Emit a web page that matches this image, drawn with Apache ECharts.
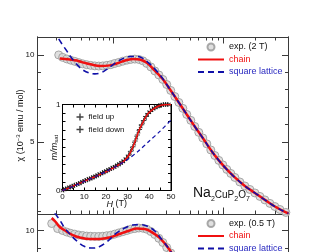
<!DOCTYPE html>
<html><head><meta charset="utf-8">
<script src="https://cdn.jsdelivr.net/npm/echarts@6/dist/echarts.min.js"></script>
<style>html,body{margin:0;padding:0;background:#fff}#c{width:326px;height:252px}</style>
</head><body><div id="c"></div>
<script>
// ---- top panel (2 T) ----
const expTopT = [3.13,3.40,3.71,4.03,4.39,4.77,5.19,5.65,6.15,6.70,7.29,7.93,8.63,9.39,10.2,11.1,12.1,13.2,14.3,15.6,17.0,18.5,20.1,21.9,23.8,25.9,28.2,30.6,33.3,36.3,39.5,43.0,46.7,50.9,55.3,60.2,65.5,71.3,77.6,84.5,91.9,100,108.8,118.4,128.9,143.2,159.2,176.9,196.7,218.6,242.9,270.0,300.1,333.5,378.4];
const expTopChi = [10.00,9.86,9.77,9.70,9.63,9.56,9.49,9.44,9.40,9.37,9.36,9.37,9.40,9.44,9.51,9.57,9.64,9.70,9.74,9.76,9.74,9.66,9.51,9.31,9.08,8.85,8.59,8.30,7.96,7.61,7.27,6.93,6.58,6.24,5.89,5.55,5.23,4.89,4.54,4.22,3.94,3.68,3.42,3.19,2.96,2.70,2.47,2.27,2.07,1.87,1.67,1.47,1.29,1.12,0.95];
const chainTopT = [3.20,3.95,4.58,5.19,6.42,7.44,9.19,10.65,13.2,15.3,17.3,20.1,23.8,28.2,33.3,39.5,46.7,55.3,65.5,77.6,91.9,108.8,128.9,159.2,196.7,242.9,300.1,378.4,400];
const chainTopChi = [9.80,9.74,9.68,9.57,9.43,9.37,9.40,9.51,9.71,9.77,9.74,9.55,9.10,8.60,7.96,7.27,6.58,5.89,5.23,4.54,3.94,3.42,2.96,2.47,2.07,1.67,1.29,0.95,0.90];
const sqTopT = [3.13,3.40,3.71,4.03,4.39,4.77,5.19,5.90,6.70,7.60,8.63,9.79,11.1,12.6,14.3,16.3,18.5,20.9,23.8,27.0,30.6,33.3,39.5,46.7,55.3,65.5,77.6,91.9,108.8,128.9,159.2,196.7,242.9,300.1,378.4,400];
const sqTopChi = [10.92,10.57,10.23,9.89,9.60,9.34,9.14,8.97,8.91,8.97,9.17,9.43,9.66,9.83,9.91,9.91,9.80,9.54,9.20,8.79,8.30,7.96,7.27,6.58,5.89,5.23,4.54,3.94,3.42,2.96,2.47,2.07,1.67,1.29,0.95,0.90];
// ---- bottom panel (0.5 T) ----
const expBotT = [2.70,3.06,3.40,3.71,4.03,4.39,4.77,5.19,5.65,6.15,6.70,7.29,7.93,8.63,9.39,10.2,11.1,12.1,13.2,14.3,15.6,17.0,18.5,20.1,21.9,23.8,25.9,28.2,30.6,33.3,36.3,39.5];
const expBotChi = [10.40,10.11,10.00,9.91,9.84,9.79,9.74,9.71,9.68,9.67,9.66,9.66,9.67,9.70,9.73,9.79,9.86,9.93,10.00,10.07,10.11,10.14,10.13,10.07,9.94,9.77,9.55,9.31,9.02,8.71,8.36,8.02];
const chainBotT = [2.70,2.94,3.20,3.63,4.21,4.88,6.02,7.44,9.19,11.3,14.0,16.3,19.2,22.3,26.4,32.6,38.6,46.0];
const chainBotChi = [10.72,10.49,10.20,9.97,9.74,9.60,9.51,9.51,9.60,9.80,10.00,10.11,10.09,9.91,9.57,8.88,8.10,7.41];
const sqBotT = [2.88,3.20,3.55,3.95,4.58,5.42,6.42,7.44,8.63,9.59,10.65,12.6,14.9,17.3,20.1,23.8,28.2,32.6,38.6,46.0];
const sqBotChi = [11.00,10.60,10.14,9.80,9.40,9.08,8.99,9.08,9.34,9.60,9.86,10.14,10.32,10.34,10.26,9.97,9.40,8.88,8.10,7.41];
// ---- inset: magnetization ----
const chainH = [0,3,6,9,12,15,18,21,24,26,28,30,31,32,33,34,35,36,37,38,39,40,42,44,46,48,50];
const chainM = [0,0.03,0.065,0.095,0.13,0.16,0.195,0.23,0.27,0.30,0.335,0.39,0.43,0.48,0.54,0.61,0.68,0.74,0.79,0.84,0.88,0.91,0.95,0.98,0.995,1.0,1.0];
const sqH = [0,5,10,15,20,25,30,35,40,45,50];
const sqM = [0,0.05,0.105,0.16,0.22,0.285,0.36,0.46,0.575,0.69,0.82];
const upH = [0.5,1.5,2.5,3.5,4.5,5.5,6.5,7.5,8.5,9.5,10.5,11.5,12.5,13.5,14.5,15.5,16.5,17.5,18.5,19.5,20.5,21.5,22.5,23.5,24.5,25.5,26.5,27.5,28.5,29.5,30.5,31.5,32.5,33.5,34.5,35.5,36.5,37.5,38.5,39.5,40.5,41.5,42.5,43.5,44.5,45.5,46.5,47.5,48.5];
const upM = [0.01,0.02,0.025,0.04,0.05,0.06,0.07,0.08,0.09,0.105,0.115,0.125,0.135,0.145,0.155,0.17,0.18,0.19,0.205,0.215,0.23,0.24,0.255,0.265,0.285,0.30,0.31,0.33,0.35,0.375,0.41,0.455,0.51,0.575,0.645,0.71,0.765,0.815,0.86,0.895,0.92,0.945,0.96,0.975,0.985,0.99,1.0,1.0,1.0];
const downH = [0,1,2,3,4,5,6,7,8,9,10,11,12,13,14,15,16,17,18,19,20,21,22,23,24,25,26,27,28,29,30,31,32,33,34,35,36,37,38,39,40,41,42,43,44,45,46,47,48,49];
const downM = [0,0.015,0.02,0.035,0.04,0.055,0.065,0.075,0.085,0.1,0.11,0.12,0.135,0.14,0.155,0.165,0.175,0.19,0.2,0.215,0.225,0.24,0.25,0.265,0.275,0.29,0.305,0.32,0.34,0.365,0.395,0.435,0.485,0.545,0.615,0.685,0.745,0.795,0.845,0.88,0.91,0.935,0.955,0.97,0.98,0.99,0.995,1.0,1.0,1.0];
// ---- tick values ----
const tMinorTicks = [2,3,4,5,6,7,8,9,20,30,40,50,60,70,80,90,200,300,400];
const tMajorTicks = [10,100];
const chiMinorTop = [1,2,3,4,6,7,8,9,11];
const chiMinorBot = [6,7,8,9];
const chiMajor = [5,10];
const hLabels = [0,10,20,30,40,50];
const mLabels = [0,1];

const zip = (a,b) => a.map((v,i)=>[v,b[i]]);
const FONT = 'Liberation Sans, Arial, sans-serif';
const AX = '#3a3a3a';
const RED = '#f01010';
const BLUE = '#1010a8';
const PLUS = 'path://M4,0H6V4H10V6H6V10H4V6H0V4H4Z';

function ax(o){
  const len = o.len || 3.5;
  const base = {
    axisLine:{show:true,onZero:false,lineStyle:{color:o.color||AX,width:1}},
    axisTick:{show:o.ticks!==false,inside:true,length:len,lineStyle:{color:o.color||AX,width:1}},
    axisLabel:{show:false},
    splitLine:{show:false},
    silent:true
  };
  if(o.tickValues) base.axisTick.customValues = o.tickValues;
  delete o.len; delete o.tickValues; delete o.ticks; delete o.color;
  return Object.assign(base,o);
}
const logX = (g,pos,vals,len,extra) => ax(Object.assign({type:'log',logBase:10,min:2,max:400,gridIndex:g,position:pos,tickValues:vals,len:len},extra||{}));
const noSym = {opacity:0};
const legendRows = (first) => [
  {name:first,textStyle:{color:'#111'}},
  {name:'chain',textStyle:{color:RED},itemStyle:noSym},
  {name:'square lattice',textStyle:{color:'#2a2ac0'},itemStyle:noSym}
];

const chart = echarts.init(document.getElementById('c'),null,{renderer:'canvas'});
const option = {
  animation:false,
  textStyle:{fontFamily:FONT},
  title:{
    text:'{b|Na}{s|2}{m|CuP}{s|2}{m|O}{s|7}',
    left:193, top:189, padding:0,
    textStyle:{fontWeight:'normal',rich:{
      b:{fontSize:14,lineHeight:14,fontWeight:'normal',padding:[0,0,3,0],verticalAlign:'bottom',color:'#111',fontFamily:FONT},
      m:{fontSize:10,lineHeight:10,fontWeight:'normal',padding:[0,0,3,0],verticalAlign:'bottom',color:'#111',fontFamily:FONT},
      s:{fontSize:7,lineHeight:7,fontWeight:'normal',verticalAlign:'bottom',color:'#111',fontFamily:FONT}
    }}
  },
  grid:[
    {left:37.5,top:37,width:251,height:177,containLabel:false,outerBoundsMode:'none'},
    {left:37.5,top:214,width:251,height:103.5,containLabel:false,outerBoundsMode:'none'},
    {left:62.5,top:104.5,width:108.5,height:86,containLabel:false,outerBoundsMode:'none',show:true,backgroundColor:'#fff',borderColor:'#000',borderWidth:1}
  ],
  xAxis:[
    logX(0,'bottom',tMinorTicks,3.5),
    logX(0,'bottom',tMajorTicks,6.5),
    logX(0,'top',tMinorTicks,3.5),
    logX(0,'top',tMajorTicks,6.5),
    logX(1,'bottom',tMinorTicks,3.5),
    logX(1,'top',tMajorTicks,0,{axisTick:{show:false}}),
    ax({type:'value',gridIndex:2,position:'bottom',min:0,max:50,interval:5,len:3,color:'#000',
        axisLabel:{show:true,customValues:hLabels,fontSize:8,margin:2,color:'#111',fontFamily:FONT},
        name:'{i|H} (T)',nameLocation:'middle',nameGap:9,nameMoveOverlap:false,
        nameTextStyle:{fontSize:9,color:'#111',fontFamily:FONT,rich:{i:{fontSize:9,fontStyle:'italic',color:'#111',fontFamily:FONT}}}}),
    ax({type:'value',gridIndex:2,position:'top',min:0,max:50,interval:5,len:3,color:'#000'})
  ],
  yAxis:[
    ax({type:'value',gridIndex:0,position:'left',min:0.86,max:11.03,tickValues:chiMinorTop,len:3.5}),
    ax({type:'value',gridIndex:0,position:'left',min:0.86,max:11.03,tickValues:chiMajor,len:6.5,
        axisLabel:{show:true,customValues:chiMajor,fontSize:8,margin:3,color:'#111',fontFamily:FONT},
        name:'{a|χ (10}{sup|−3}{a| emu / mol)}',nameLocation:'middle',nameGap:11,nameRotate:90,nameMoveOverlap:false,
        nameTextStyle:{fontSize:9,color:'#111',fontFamily:FONT,rich:{
          a:{fontSize:9,lineHeight:11,color:'#111',fontFamily:FONT},
          sup:{fontSize:6,lineHeight:11,verticalAlign:'top',color:'#111',fontFamily:FONT}}}}),
    ax({type:'value',gridIndex:0,position:'right',min:0.86,max:11.03,tickValues:chiMinorTop,len:3.5}),
    ax({type:'value',gridIndex:0,position:'right',min:0.86,max:11.03,tickValues:chiMajor,len:6.5}),
    ax({type:'value',gridIndex:1,position:'left',min:5,max:10.948,tickValues:chiMinorBot,len:3.5}),
    ax({type:'value',gridIndex:1,position:'left',min:5,max:10.948,tickValues:chiMajor,len:6.5,
        axisLabel:{show:true,customValues:chiMajor,fontSize:8,margin:3,color:'#111',fontFamily:FONT}}),
    ax({type:'value',gridIndex:1,position:'right',min:5,max:10.948,tickValues:chiMinorBot,len:3.5}),
    ax({type:'value',gridIndex:1,position:'right',min:5,max:10.948,tickValues:chiMajor,len:6.5}),
    ax({type:'value',gridIndex:2,position:'left',min:0,max:1,interval:0.1,len:3,color:'#000',
        axisLabel:{show:true,customValues:mLabels,fontSize:8,margin:2,color:'#111',fontFamily:FONT},
        name:'{i|m/m}{s|sat}',nameLocation:'middle',nameGap:3,nameRotate:90,nameMoveOverlap:false,
        nameTextStyle:{fontSize:9,color:'#111',fontFamily:FONT,rich:{
          i:{fontSize:9,lineHeight:10,fontStyle:'italic',verticalAlign:'top',color:'#111',fontFamily:FONT},
          s:{fontSize:6,lineHeight:10,verticalAlign:'bottom',color:'#111',fontFamily:FONT}}}}),
    ax({type:'value',gridIndex:2,position:'right',min:0,max:1,interval:0.1,len:3,color:'#000'})
  ],
  legend:[
    {selectedMode:false,orient:'vertical',left:197,top:42,height:60,padding:0,itemWidth:26,itemHeight:7,itemGap:2.5,
     textStyle:{fontSize:9,lineHeight:10,fontFamily:FONT},data:legendRows('exp. (2 T)')},
    {selectedMode:false,orient:'vertical',left:197,top:218.5,height:60,padding:0,itemWidth:26,itemHeight:7,itemGap:2.5,
     textStyle:{fontSize:9,lineHeight:10,fontFamily:FONT},data:legendRows('exp. (0.5 T)')},
    {selectedMode:false,orient:'vertical',left:76.5,top:112.5,height:40,padding:0,itemWidth:7,itemHeight:7,itemGap:3.5,
     textStyle:{fontSize:8,lineHeight:9,color:'#111',fontFamily:FONT},
     data:['field up','field down']}
  ],
  series:[
    {type:'scatter',name:'exp. (2 T)',xAxisIndex:0,yAxisIndex:0,data:zip(expTopT,expTopChi),symbol:'circle',symbolSize:8,
     itemStyle:{color:'#d8d8d8',borderColor:'#959595',borderWidth:1},z:2,silent:true},
    {type:'line',name:'chain',xAxisIndex:0,yAxisIndex:0,data:zip(chainTopT,chainTopChi),symbol:'none',smooth:0.4,
     lineStyle:{color:RED,width:2.5},itemStyle:{color:RED},z:3,silent:true},
    {type:'line',name:'square lattice',xAxisIndex:0,yAxisIndex:0,data:zip(sqTopT,sqTopChi),symbol:'none',smooth:0.4,
     lineStyle:{color:BLUE,width:1.6,type:[6,4]},itemStyle:{color:BLUE},z:4,silent:true},
    {type:'scatter',name:'exp. (0.5 T)',xAxisIndex:4,yAxisIndex:4,data:zip(expBotT,expBotChi),symbol:'circle',symbolSize:8,
     itemStyle:{color:'#d8d8d8',borderColor:'#959595',borderWidth:1},z:2,silent:true},
    {type:'line',name:'chain',xAxisIndex:4,yAxisIndex:4,data:zip(chainBotT,chainBotChi),symbol:'none',smooth:0.4,
     lineStyle:{color:RED,width:2.5},itemStyle:{color:RED},z:3,silent:true},
    {type:'line',name:'square lattice',xAxisIndex:4,yAxisIndex:4,data:zip(sqBotT,sqBotChi),symbol:'none',smooth:0.4,
     lineStyle:{color:BLUE,width:1.6,type:[6,4]},itemStyle:{color:BLUE},z:4,silent:true},
    {type:'scatter',name:'field up',xAxisIndex:6,yAxisIndex:8,data:zip(upH,upM),symbol:PLUS,symbolSize:5,
     itemStyle:{color:'#111'},z:5,silent:true},
    {type:'scatter',name:'field down',xAxisIndex:6,yAxisIndex:8,data:zip(downH,downM),symbol:PLUS,symbolSize:5,symbolRotate:45,
     itemStyle:{color:'#111'},z:5,silent:true},
    {type:'line',name:'chain M',xAxisIndex:6,yAxisIndex:8,data:zip(chainH,chainM),symbol:'none',smooth:0.4,
     lineStyle:{color:RED,width:1.5},z:6,silent:true},
    {type:'line',name:'square M',xAxisIndex:6,yAxisIndex:8,data:zip(sqH,sqM),symbol:'none',smooth:0.3,
     lineStyle:{color:BLUE,width:1.2,type:[4,3]},z:7,silent:true}
  ]
};
chart.setOption(option);
</script></body></html>
